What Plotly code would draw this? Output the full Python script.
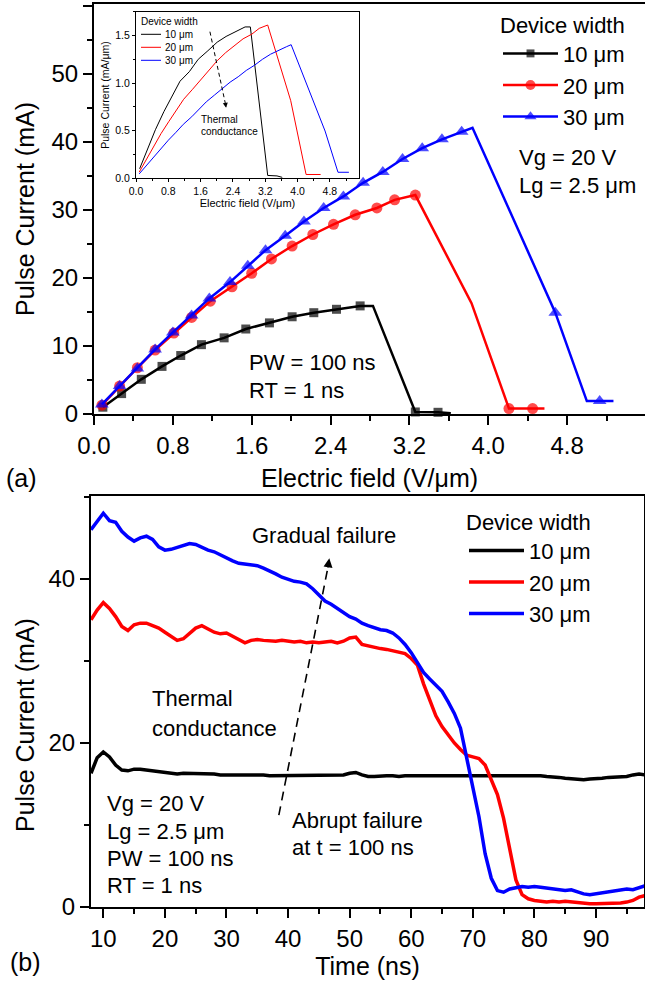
import plotly.graph_objects as go

W, H = 645, 981

# ---------------- (a) pulse I-E data ----------------
widths = [10, 20, 30]
width_labels = ["10 \u03bcm", "20 \u03bcm", "30 \u03bcm"]
colors = ["#000000", "#ff0000", "#0000ff"]
symbols = ["square", "circle", "triangle-up"]
marker_px = [9, 11, 12]

field_10 = [0.09, 0.28, 0.48, 0.69, 0.88, 1.09, 1.32, 1.54, 1.78, 2.01, 2.23, 2.46, 2.70, 2.83, 3.26, 3.49, 3.62]
curr_10 = [1.0, 3.0, 5.1, 7.0, 8.6, 10.2, 11.2, 12.5, 13.4, 14.3, 14.9, 15.4, 15.9, 15.9, 0.3, 0.25, 0.1]
mark_10 = [1, 1, 1, 1, 1, 1, 1, 1, 1, 1, 1, 1, 1, 0, 1, 1, 0]

field_20 = [0.08, 0.26, 0.44, 0.62, 0.81, 0.99, 1.18, 1.40, 1.60, 1.80, 2.01, 2.22, 2.43, 2.65, 2.87, 3.05, 3.26, 3.83, 4.21, 4.45, 4.57]
curr_20 = [1.3, 4.1, 6.8, 9.4, 11.9, 14.2, 16.6, 18.7, 20.7, 22.8, 24.7, 26.4, 27.9, 29.3, 30.3, 31.5, 32.2, 16.3, 0.8, 0.8, 0.8]
mark_20 = [1, 1, 1, 1, 1, 1, 1, 1, 1, 1, 1, 1, 1, 1, 1, 1, 1, 0, 1, 1, 0]

field_30 = [0.08, 0.26, 0.44, 0.62, 0.80, 0.99, 1.17, 1.38, 1.56, 1.74, 1.94, 2.13, 2.33, 2.53, 2.73, 2.93, 3.13, 3.33, 3.53, 3.73, 3.84, 4.68, 5.00, 5.13, 5.27]
curr_30 = [1.4, 4.1, 6.7, 9.5, 12.0, 14.5, 17.0, 19.4, 21.8, 24.1, 26.2, 28.3, 30.3, 32.0, 34.0, 35.6, 37.5, 39.1, 40.4, 41.5, 42.1, 14.9, 1.9, 1.9, 1.9]
mark_30 = [1, 1, 1, 1, 1, 1, 1, 1, 1, 1, 1, 1, 1, 1, 1, 1, 1, 1, 1, 1, 0, 1, 0, 1, 0]

fields = [field_10, field_20, field_30]
currents = [curr_10, curr_20, curr_30]
marks = [mark_10, mark_20, mark_30]

# ---------------- (b) transient data ----------------
time_ns = list(range(8, 99))
i_10 = [16.3, 18.2, 18.9, 18.3, 17.3, 16.7, 16.6, 16.8, 16.8, 16.7, 16.6, 16.5, 16.4, 16.3, 16.2, 16.3,
        16.3, 16.3, 16.3, 16.2, 16.2, 16.1, 16.1, 16.2, 16.2, 16.1, 16.1, 16.2, 16.1, 16.0, 16.0, 16.1,
        16.1, 16.0, 16.0, 16.1, 16.0, 16.0, 16.1, 16.0, 16.0, 16.1, 16.3, 16.4, 16.1, 15.9, 15.9, 16.0,
        16.0, 16.0, 15.9, 16.0, 16.0, 16.1, 16.0, 16.0, 16.0, 16.1, 16.0, 16.0, 16.0, 16.0, 16.0, 16.0,
        16.0, 16.1, 16.0, 16.0, 16.1, 16.0, 16.0, 16.0, 16.0, 16.0, 15.9, 15.9, 15.8, 15.7, 15.6, 15.6,
        15.5, 15.6, 15.6, 15.7, 15.8, 15.8, 15.8, 15.9, 16.1, 16.2, 16.1]
i_20 = [35.0, 36.2, 37.1, 36.4, 35.4, 34.2, 33.7, 34.4, 34.6, 34.6, 34.3, 34.0, 33.5, 33.0, 32.5, 32.7,
        33.4, 34.0, 34.3, 33.9, 33.5, 33.3, 33.4, 33.0, 32.6, 32.2, 32.5, 32.6, 32.5, 32.4, 32.4, 32.5,
        32.4, 32.3, 32.4, 32.2, 32.3, 32.2, 32.3, 32.4, 32.2, 32.4, 32.8, 32.9, 32.0, 31.8, 31.6, 31.5,
        31.4, 31.2, 31.0, 30.9, 30.3, 29.5, 27.2, 25.2, 23.3, 22.0, 21.0, 20.0, 19.2, 18.5, 18.3, 18.1,
        17.3, 15.5, 13.7, 10.8, 7.3, 3.3, 1.5, 1.0, 0.8, 0.7, 0.6, 0.7, 0.6, 0.7, 0.6, 0.5,
        0.4, 0.4, 0.4, 0.4, 0.4, 0.4, 0.5, 0.6, 0.8, 1.2, 1.4]
i_30 = [46.0, 47.0, 48.0, 47.1, 46.9, 45.8, 45.1, 44.6, 45.0, 45.2, 44.8, 43.9, 43.5, 43.6, 43.8, 44.1,
        44.3, 44.2, 43.8, 43.5, 43.3, 42.9, 42.5, 42.2, 41.9, 41.8, 41.8, 41.6, 41.3, 41.0, 40.6, 40.2,
        39.9, 39.7, 39.6, 39.4, 38.8, 38.0, 37.3, 36.9, 36.4, 35.9, 35.4, 35.1, 34.6, 34.3, 34.0, 33.8,
        33.7, 33.4, 32.8, 32.0, 31.0, 29.8, 28.6, 27.8, 27.0, 26.3, 25.0, 23.6, 21.8, 18.3, 15.0, 11.0,
        6.5, 3.5, 2.0, 1.8, 2.2, 2.4, 2.5, 2.4, 2.5, 2.4, 2.3, 2.3, 2.1, 2.0, 2.1, 1.8,
        1.6, 1.5, 1.6, 1.7, 1.8, 1.9, 2.0, 2.2, 2.1, 2.4, 2.6]
transients = [i_10, i_20, i_30]

FONT = "Liberation Sans, Arial, Helvetica, sans-serif"


def px(x):
    return x / W


def py(y):
    return 1 - y / H


fig = go.Figure()

# (a) main
for k in range(3):
    fig.add_trace(go.Scatter(
        x=fields[k], y=currents[k], mode="lines+markers", name=width_labels[k],
        line=dict(color=colors[k], width=2.5),
        marker=dict(symbol=symbols[k], color=colors[k],
                    size=[marker_px[k] if m else 0 for m in marks[k]], line=dict(width=0)),
        xaxis="x", yaxis="y", legend="legend", cliponaxis=False,
    ))

# (a) inset: current normalised by device width
for k in range(3):
    fig.add_trace(go.Scatter(
        x=fields[k], y=[c / widths[k] for c in currents[k]], mode="lines",
        line=dict(color=colors[k], width=1), showlegend=False,
        xaxis="x2", yaxis="y2", cliponaxis=False,
    ))

# (b)
for k in range(3):
    fig.add_trace(go.Scatter(
        x=time_ns, y=transients[k], mode="lines", name=width_labels[k],
        line=dict(color=colors[k], width=3.5),
        xaxis="x3", yaxis="y3", legend="legend2",
    ))


def axis(domain, rng, anchor, dtick, minor_dtick, tick0=0, fmt=None, mirror=True,
         lw=2, tlen=9, mlen=5, fsize=24, title="", tsize=25, standoff=10):
    d = dict(domain=domain, range=rng, anchor=anchor, autorange=False, automargin=False,
             showline=True, linecolor="black", linewidth=lw, mirror=mirror,
             ticks="outside", ticklen=tlen, tickwidth=lw, tickcolor="black",
             tickmode="linear", tick0=tick0, dtick=dtick,
             showgrid=False, zeroline=False,
             tickfont=dict(size=fsize, color="black", family=FONT),
             minor=dict(ticks="outside", ticklen=mlen, tickwidth=lw, tickcolor="black",
                        dtick=minor_dtick, tick0=tick0, showgrid=False),
             title=dict(text=title, font=dict(size=tsize, color="black", family=FONT), standoff=standoff))
    if fmt:
        d["tickformat"] = fmt
    return d


fig.update_layout(
    template="none",
    width=W, height=H, margin=dict(l=0, r=0, t=0, b=0, pad=0, autoexpand=False),
    paper_bgcolor="white", plot_bgcolor="white",
    font=dict(family=FONT, color="black"),
    showlegend=True,
    xaxis=axis([px(94), 1.0], [0, 5.59], "y", 0.8, 0.4, fmt=".1f",
               title="Electric field (V/\u03bcm)", standoff=12),
    yaxis=axis([py(414), py(4)], [0, 60.3], "x", 10, 5, mirror=False,
               title="Pulse Current (mA)", standoff=10),
    xaxis2=axis([px(136), px(359)], [0, 5.52], "y2", 0.8, 0.4, fmt=".1f", lw=1, tlen=3, mlen=2,
                fsize=10.5, title="Electric field (V/\u03bcm)", tsize=11, standoff=2),
    yaxis2=axis([py(178.3), py(11.7)], [0, 1.75], "x2", 0.5, 0.25, fmt=".1f", lw=1, tlen=3, mlen=2,
                fsize=10.5, title="Pulse Current (mA/\u03bcm)", tsize=10.5, standoff=3),
    xaxis3=axis([px(91), px(644)], [8, 97.8], "y3", 10, 5, tick0=10,
                title="Time (ns)", standoff=6),
    yaxis3=axis([py(907), py(496)], [0, 50.1], "x3", 20, 10, title=""),
    legend=dict(x=px(498), xanchor="left", y=py(4), yanchor="top", bgcolor="rgba(0,0,0,0)",
                font=dict(size=22, color="black", family=FONT), itemwidth=55, itemsizing="trace",
                title=dict(text="Device width", font=dict(size=22, color="black", family=FONT))),
    legend2=dict(x=px(464), xanchor="left", y=py(501), yanchor="top", bgcolor="rgba(0,0,0,0)",
                 font=dict(size=22, color="black", family=FONT), itemwidth=55,
                 title=dict(text="Device width", font=dict(size=22, color="black", family=FONT))),
)

ann = []


def text(x, y, s, size=22, anchor="left", angle=0):
    ann.append(dict(x=px(x), y=py(y), xref="paper", yref="paper", text=s, showarrow=False,
                    xanchor=anchor, yanchor="middle", textangle=angle,
                    font=dict(size=size, color="black", family=FONT)))


# (b) y-axis title (placed lower than the plot centre, as in the original)
text(25, 725, "Pulse Current (mA)", size=25, anchor="center", angle=-90)
# (a) texts
text(517, 157, "Vg = 20 V")
text(517, 185, "Lg = 2.5 \u03bcm")
text(247, 363, "PW = 100 ns")
text(247, 390, "RT = 1 ns")
text(4, 478, "(a)", size=25)
# inset legend + note
text(139, 21.7, "Device width", size=10)
for k, yy in enumerate([34.3, 47.3, 60.3]):
    text(163, yy, width_labels[k], size=10)
text(199, 119.3, "Thermal", size=10)
text(199, 131.7, "conductance", size=10)
# (b) texts
text(323.5, 535, "Gradual failure", anchor="center")
text(150, 698, "Thermal")
text(150, 728, "conductance")
text(290, 820, "Abrupt failure")
text(290, 847, "at t = 100 ns")
text(105, 803, "Vg = 20 V")
text(105, 831, "Lg = 2.5 \u03bcm")
text(105, 858, "PW = 100 ns")
text(105, 885, "RT = 1 ns")
text(8, 962, "(b)", size=25)

# arrowheads
ann.append(dict(x=2.23, y=0.74, ax=2.215, ay=0.78, xref="x2", yref="y2", axref="x2", ayref="y2",
                showarrow=True, arrowhead=2, arrowsize=1, arrowwidth=1, arrowcolor="black", text=""))
ann.append(dict(x=46.7, y=42.5, ax=46.45, ay=41.2, xref="x3", yref="y3", axref="x3", ayref="y3",
                showarrow=True, arrowhead=2, arrowsize=1.2, arrowwidth=1.5, arrowcolor="black", text=""))
fig.update_layout(annotations=ann)

shapes = []
# inset legend samples
for k, yy in enumerate([34.3, 47.3, 60.3]):
    shapes.append(dict(type="line", xref="paper", yref="paper", x0=px(141), x1=px(161),
                       y0=py(yy), y1=py(yy), line=dict(color=colors[k], width=1)))
# dashed arrows
shapes.append(dict(type="line", xref="x2", yref="y2", x0=1.83, y0=1.54, x1=2.22, y1=0.77,
                   line=dict(color="black", width=1, dash="4px,3px")))
shapes.append(dict(type="line", xref="x3", yref="y3", x0=38.5, y0=11.2, x1=46.5, y1=41.5,
                   line=dict(color="black", width=1.6, dash="9px,6px")))
fig.update_layout(shapes=shapes)

fig.write_html("out.html", config={"displayModeBar": False},
               post_script="document.body.style.margin='0';document.body.style.overflow='hidden';")
